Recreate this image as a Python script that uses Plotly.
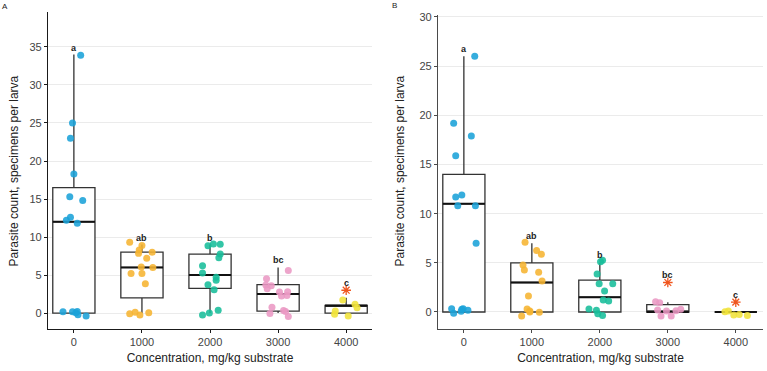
import numpy as np
import plotly.graph_objects as go

# ---------------- data ----------------
conc_labels = ["0", "1000", "2000", "3000", "4000"]
letters = ["a", "ab", "b", "bc", "c"]
colors = ["#1AA2D8", "#F6B431", "#17BD9A", "#EA98C4", "#F0E23A"]
y_title = "Parasite count, specimens per larva"
x_title = "Concentration, mg/kg substrate"

# Panel A: raw counts per larva
A_raw = [
    [0, 0, 0, 0, 0, 0, 12, 12, 12, 15, 15, 18, 23, 25, 34],
    [0, 0, 0, 0, 4, 5, 5, 6, 6, 7, 8, 8, 8, 9, 9],
    [0, 0, 0, 3, 4, 4, 5, 5, 6, 7, 8, 9, 9, 9],
    [0, 0, 0, 0, 1, 2, 2, 3, 3, 3, 4, 4, 5, 6],
    [0, 0, 0, 0, 1, 1, 1, 2, 3],
]
# Panel A: jittered points as drawn (horizontal offset, value)
A_dx = [
    [0.10, -0.02, -0.05, 0.00, -0.06, 0.13, -0.05, -0.11, 0.05, -0.16, -0.02, 0.05, 0.03, 0.06, 0.18],
    [-0.18, 0.00, -0.04, -0.05, 0.15, 0.07, -0.01, 0.16, -0.16, 0.00, 0.05, -0.18, -0.10, -0.03, 0.10],
    [-0.03, 0.05, 0.15, 0.15, 0.13, -0.11, -0.11, 0.09, 0.09, -0.03, 0.06, -0.11, -0.01, 0.12],
    [0.15, -0.17, -0.18, -0.10, -0.16, 0.02, 0.14, 0.13, 0.05, -0.09, -0.12, 0.08, 0.11, 0.15],
    [-0.05, 0.13, 0.16, -0.16, -0.17, 0.03],
]
A_y = [
    [33.9, 25.0, 23.0, 18.3, 15.3, 14.8, 12.6, 12.2, 11.8, 0.17, 0.17, 0.2, 0.05, -0.22, -0.38],
    [9.3, 8.9, 8.3, 7.85, 8.0, 7.2, 6.05, 6.0, 5.2, 5.2, 3.85, -0.1, 0.1, -0.25, 0.05],
    [8.86, 9.08, 9.04, 7.76, 7.28, 6.23, 5.26, 4.7, 4.3, 3.73, 3.07, -0.26, 0.0, 0.36],
    [5.6, 4.5, 3.7, 3.6, 3.2, 2.76, 2.8, 2.3, 2.25, 0.75, -0.05, 0.35, 0.2, -0.45],
    [1.7, 1.14, 0.7, 0.26, -0.17, -0.4],
]

# Panel B: raw counts per larva
B_raw = [
    [0, 0, 0, 0, 0, 0, 7, 11, 11, 12, 12, 16, 18, 19, 26],
    [0, 0, 0, 0, 0, 2, 3, 4, 4, 5, 6, 6, 7],
    [0, 0, 0, 0, 1, 1, 2, 3, 3, 4, 5, 5],
    [0, 0, 0, 0, 0, 0, 0, 1, 1, 3],
    [0, 0, 0, 0, 0, 1],
]
B_dx = [
    [0.16, -0.15, 0.11, -0.12, -0.03, -0.12, -0.09, 0.17, 0.18, -0.18, -0.15, -0.03, -0.01, -0.04, 0.06],
    [-0.10, 0.07, 0.14, -0.13, -0.11, 0.10, 0.15, -0.05, -0.07, -0.03, 0.11, -0.15, -0.03],
    [0.04, 0.01, -0.04, -0.01, 0.19, 0.07, 0.05, 0.13, -0.16, -0.05, -0.03, 0.04],
    [-0.18, -0.12, -0.15, -0.10, -0.02, 0.05, 0.12, 0.19],
    [-0.16, -0.11, -0.03, 0.05, 0.17],
]
B_y = [
    [26.0, 19.2, 17.9, 15.9, 11.9, 11.7, 10.8, 10.8, 7.0, 0.34, -0.14, 0.27, 0.34, 0.07, 0.17],
    [7.09, 6.24, 5.87, 4.78, 4.27, 4.04, 3.15, 1.63, 0.3, 0.1, -0.03, -0.4, 0.0],
    [5.26, 5.1, 3.87, 2.88, 2.88, 2.14, 1.22, 1.12, 0.3, 0.17, -0.17, -0.37],
    [1.05, 0.95, 0.2, -0.4, 0.1, -0.4, 0.13, 0.27],
    [0.03, 0.1, -0.3, -0.25, -0.37],
]

# ---------------- figure ----------------
BOX_W = 0.62
FONT = "Liberation Sans, Arial, sans-serif"
OUTLIER_COLOR = "#F0561E"
fig = go.Figure()


def box_stats(vals):
    v = np.array(vals, dtype=float)
    q1, med, q3 = np.percentile(v, [25, 50, 75])
    iqr = q3 - q1
    lo_f, hi_f = q1 - 1.5 * iqr, q3 + 1.5 * iqr
    inside = v[(v >= lo_f) & (v <= hi_f)]
    outl = v[(v < lo_f) | (v > hi_f)]
    return q1, med, q3, inside.min(), inside.max(), outl


def add_panel(raw, dx, ys, xa, ya, yshift):
    stats = [box_stats(v) for v in raw]
    pos = list(range(len(raw)))
    fig.add_trace(go.Box(
        x=pos,
        q1=[s[0] for s in stats], median=[s[1] for s in stats], q3=[s[2] for s in stats],
        lowerfence=[s[3] for s in stats], upperfence=[s[4] for s in stats],
        width=BOX_W, whiskerwidth=0, boxpoints=False,
        fillcolor="white", line=dict(color="#333333", width=1.3),
        xaxis=xa, yaxis=ya, showlegend=False, hoverinfo="skip"))
    # thicker median lines
    for i, s in enumerate(stats):
        fig.add_trace(go.Scatter(
            x=[i - BOX_W / 2, i + BOX_W / 2], y=[s[1], s[1]], mode="lines",
            line=dict(color="#111111", width=2), xaxis=xa, yaxis=ya,
            showlegend=False, hoverinfo="skip"))
    # jittered points
    for i in range(len(raw)):
        fig.add_trace(go.Scatter(
            x=[i + d for d in dx[i]], y=ys[i], mode="markers",
            marker=dict(color=colors[i], size=7, opacity=0.88, line=dict(width=0)),
            xaxis=xa, yaxis=ya, showlegend=False, hoverinfo="skip"))
    # outliers
    ox, oy = [], []
    for i, s in enumerate(stats):
        for o in s[5]:
            ox.append(i)
            oy.append(o)
    fig.add_trace(go.Scatter(
        x=ox, y=oy, mode="markers",
        marker=dict(symbol="asterisk-open", size=8, color=OUTLIER_COLOR,
                    line=dict(color=OUTLIER_COLOR, width=1.3)),
        xaxis=xa, yaxis=ya, showlegend=False, hoverinfo="skip"))
    # significance letters above max value
    for i, v in enumerate(raw):
        fig.add_annotation(
            x=i, y=max(v), xref=xa, yref=ya, text="<b>%s</b>" % letters[i],
            showarrow=False, yshift=yshift, yanchor="middle",
            font=dict(size=9, color="#222222", family=FONT))


add_panel(A_raw, A_dx, A_y, "x", "y", 7)
add_panel(B_raw, B_dx, B_y, "x2", "y2", 7.5)


def axis_common(lc):
    return dict(
        showline=True, linecolor=lc, linewidth=1.2,
        ticks="outside", ticklen=3, tickcolor=lc, tickwidth=1,
        zeroline=False, tickfont=dict(size=11, color="#444444", family=FONT),
    )


def xcommon(lc):
    return dict(axis_common(lc), showgrid=False, tickmode="array",
                tickvals=list(range(len(conc_labels))), ticktext=conc_labels,
                title=dict(text=x_title,
                           font=dict(size=12, color="#222222", family=FONT), standoff=6))


def ycommon(lc):
    return dict(axis_common(lc), showgrid=True, gridcolor="#EBEBEB", gridwidth=0.8)


title_font = dict(size=12, color="#222222", family=FONT)
fig.update_layout(
    width=767, height=371,
    margin=dict(l=48, r=4, t=12, b=42),
    paper_bgcolor="white", plot_bgcolor="white",
    xaxis=dict(xcommon("#1a1a1a"), domain=[0, 0.4532], range=[-0.38, 4.38], anchor="y"),
    yaxis=dict(ycommon("#1a1a1a"), domain=[0, 1], range=[-2.1, 39.6], anchor="x",
               tickvals=[0, 5, 10, 15, 20, 25, 30, 35]),
    xaxis2=dict(xcommon("#4a4a4a"), domain=[0.5455, 1], range=[-0.38, 4.40], anchor="y2"),
    yaxis2=dict(ycommon("#4a4a4a"), domain=[0, 0.9905], range=[-1.73, 30.2], anchor="x2",
                tickvals=[0, 5, 10, 15, 20, 25, 30]),
    annotations=list(fig.layout.annotations) + [
        dict(text=y_title, x=-0.0476, y=0.5, xref="paper", yref="paper", showarrow=False,
             textangle=-90, xanchor="center", yanchor="middle", font=title_font),
        dict(text=y_title, x=0.4923, y=0.5, xref="paper", yref="paper", showarrow=False,
             textangle=-90, xanchor="center", yanchor="middle", font=title_font),
        dict(text="A", x=-0.060, y=1.016, xref="paper", yref="paper", showarrow=False,
             xanchor="center", yanchor="middle", font=dict(size=8, color="#222222", family=FONT)),
        dict(text="B", x=0.4853, y=1.019, xref="paper", yref="paper", showarrow=False,
             xanchor="center", yanchor="middle", font=dict(size=8, color="#222222", family=FONT)),
    ],
)

fig.write_html("out.html")
